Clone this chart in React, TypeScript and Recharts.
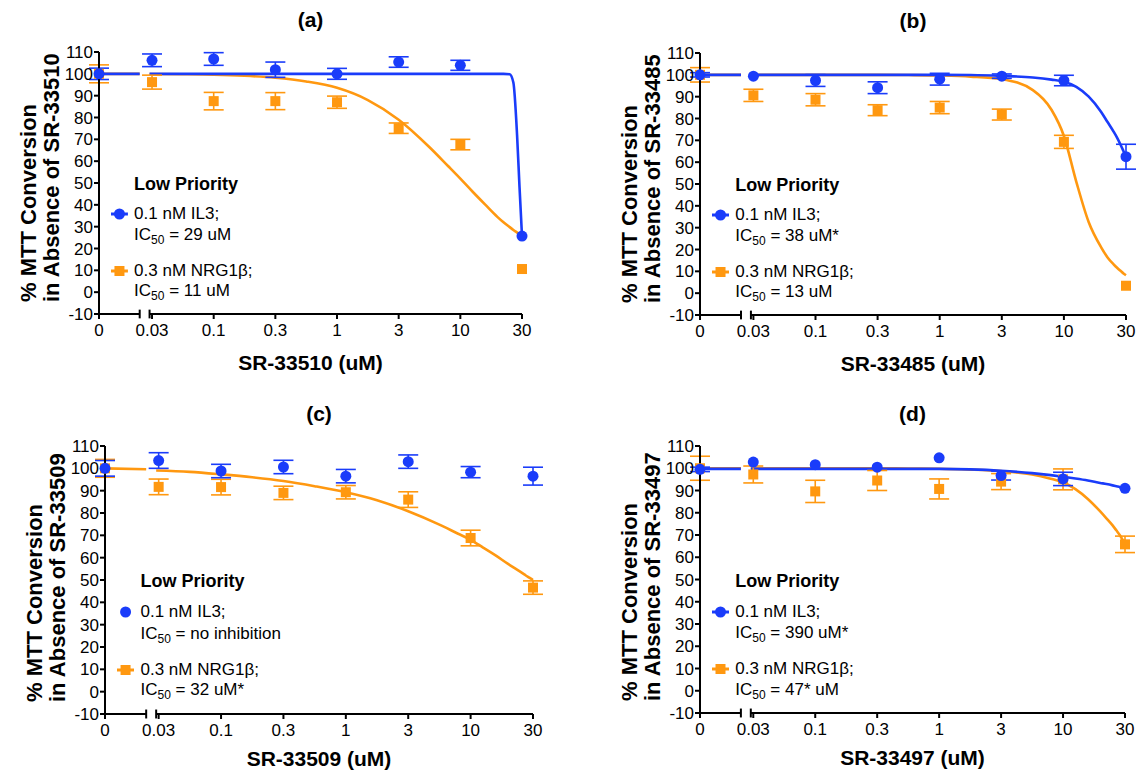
import { ComposedChart, Line, Scatter, XAxis, YAxis, ErrorBar, ReferenceLine } from 'recharts'

const BLUE = '#1a3cfa'
const ORANGE = '#ff9810'
const FONT = '"Liberation Sans", Arial, sans-serif'

// x axis: tick labels, and log10 of the non-zero doses (half-log steps)
const doseLabels = ['0', '0.03', '0.1', '0.3', '1', '3', '10', '30']
const logDose = [-1.5, -1, -0.5, 0, 0.5, 1, 1.5]
const ZERO_X = -1.93
const BREAK_L = -1.6
const BREAK_R = -1.52
const yTicks = [-10, 0, 10, 20, 30, 40, 50, 60, 70, 80, 90, 100, 110]

const fitX = [-1.52, -1.25, -1, -0.75, -0.5, -0.25, 0, 0.25, 0.5, 0.75, 0.9, 1, 1.1, 1.2, 1.3, 1.35, 1.4, 1.43, 1.46, 1.48, 1.5]

// (a) SR-33510
const il3A = [100, 106.2, 106.8, 101.9, 100, 105.4, 103.9, 25.7]
const il3AErr = [2.6, 2.9, 2.9, 3.5, 2.5, 2.4, 2.3, 0]
const nrgA = [100, 96.2, 87.5, 87.5, 87, 75.1, 67.6, 10.6]
const nrgAErr = [4.1, 3.2, 4, 3.9, 2.8, 2.4, 2.4, 0]
const il3FitA = [100, 100, 100, 100, 100, 100, 100, 100, 100, 100, 100, 100, 100, 100, 100, 100, 99.8, 96, 72, 48, 25.7]
const nrgFitA = [99.9, 99.8, 99.6, 99.1, 98.2, 96.5, 93.6, 88, 79, 66.4, 57.8, 52, 46, 40.2, 34.5, 32, 29.8, 28.5, 27.3, 26.5, 25.7]
const il3StubA = [100, 100]
const nrgStubA = [100, 100]

// (b) SR-33485
const il3B = [100, 99.4, 97.4, 94.1, 98, 99.4, 97.4, 62.5]
const il3BErr = [1, 0, 2.7, 2.7, 2.7, 1, 2.4, 5.7]
const nrgB = [100, 90.6, 88.6, 83.8, 85, 81.8, 69.3, 3.4]
const nrgBErr = [3.3, 2.8, 2.8, 2.5, 2.8, 2.5, 3, 0]
const il3FitB = [100, 100, 100, 100, 100, 100, 100, 99.9, 99.5, 98.8, 97.8, 96.8, 94.5, 90, 83, 78.5, 74, 71, 67.5, 65, 62.5]
const nrgFitB = [100, 100, 100, 100, 100, 99.9, 99.7, 99.2, 98, 93, 84, 72, 51, 32.5, 21, 16.5, 13.2, 11.5, 10, 9, 8.2]
const il3StubB = [100, 100]
const nrgStubB = [100, 100]

// (c) SR-33509
const il3C = [100, 103.5, 98.8, 100.6, 96.5, 103, 98.3, 96.5]
const il3CErr = [3.5, 3.5, 3, 3, 3, 3, 2.5, 4]
const nrgC = [100, 91.7, 91.6, 89, 89.3, 86, 68.8, 46.6]
const nrgCErr = [4, 3.5, 3.5, 3, 3, 3.5, 3.5, 3]
const nrgFitC = [99, 98.4, 97.3, 96, 94.3, 92, 89.3, 85.7, 80.8, 74.8, 70.7, 68, 64.5, 61, 57.2, 55.4, 53.6, 52.5, 51.4, 50.7, 50]
const nrgStubC = [100, 99.6]

// (d) SR-33497
const il3D = [99.5, 102.8, 101.6, 100.5, 104.7, 96.7, 95.2, 91]
const il3DErr = [1, 0, 0, 0, 0, 2, 3, 0]
const nrgD = [100, 97.2, 89.6, 94.5, 90.7, 94, 95, 65.8]
const nrgDErr = [5.4, 3.8, 5, 4.5, 4.5, 3.6, 4.7, 3.7]
const il3FitD = [99.7, 99.7, 99.7, 99.7, 99.7, 99.7, 99.7, 99.5, 98.9, 97.8, 96.9, 96.2, 95.4, 94.5, 93.4, 92.9, 92.3, 91.9, 91.5, 91.2, 91]
const nrgFitD = [100, 100, 100, 100, 100, 99.9, 99.8, 99.4, 98.7, 97.2, 95.3, 93.7, 90.6, 86.2, 80.6, 77.5, 74.3, 72.1, 69.8, 67.9, 65.8]
const il3StubD = [99.7, 99.7]
const nrgStubD = [100, 100]

type Pt = { x: number; y: number; err?: number }
type Box = { left: number; top: number; w: number; h: number }

const xTicks = [ZERO_X, ...logDose]

const points = (vals: number[], errs: number[]): Pt[] =>
  vals.map((v, i) => ({ x: xTicks[i], y: v, err: errs[i] }))
const fit = (vals: number[]): Pt[] => vals.map((v, i) => ({ x: fitX[i], y: v }))
const stub = (vals: number[]): Pt[] => [
  { x: ZERO_X, y: vals[0] },
  { x: BREAK_L, y: vals[1] },
]

const YW = 45
const MT = 10
const MR = 30
const XH = 30
const MB = 5

const circleShape = (p: any) => <circle cx={p.cx} cy={p.cy} r={5.5} fill={BLUE} />
const squareShape = (p: any) => <rect x={p.cx - 5} y={p.cy - 5} width={10} height={10} fill={ORANGE} />

type PanelProps = {
  box: Box
  tag: string
  compound: string
  il3: Pt[]
  nrg: Pt[]
  il3Fit?: Pt[]
  nrgFit: Pt[]
  il3Stub?: Pt[]
  nrgStub: Pt[]
  il3Ic50: string
  nrgIc50: string
  xTitleGap?: number
}

function Ic50({ text }: { text: string }) {
  return (
    <span>
      IC<sub style={{ fontSize: 12, verticalAlign: -4, lineHeight: 0 }}>50</sub> = {text}
    </span>
  )
}

function Marker({ kind, line, x, y, w }: { kind: 'circle' | 'square'; line: boolean; x: number; y: number; w: number }) {
  const color = kind === 'circle' ? BLUE : ORANGE
  return (
    <svg style={{ position: 'absolute', left: x - w / 2, top: y - 8 }} width={w} height={16}>
      {line && <line x1={0} y1={8} x2={w} y2={8} stroke={color} strokeWidth={3} />}
      {kind === 'circle' ? (
        <circle cx={w / 2} cy={8} r={5.5} fill={color} />
      ) : (
        <rect x={w / 2 - 5} y={3} width={10} height={10} fill={color} />
      )}
    </svg>
  )
}

function Panel(props: PanelProps) {
  const { box, tag, compound, il3, nrg, il3Fit, nrgFit, il3Stub, nrgStub, il3Ic50, nrgIc50, xTitleGap = 37 } = props
  const { left, top, w, h } = box
  const axisStroke = { stroke: '#000', strokeWidth: 2 }
  const tickStyle = { fill: '#000', fontSize: 17, fontFamily: FONT }
  const textX = left + 0.083 * w
  const markX = left + 0.048 * w
  const line = (cy: number, content: any, bold = false, size = 17) => (
    <div
      style={{
        position: 'absolute',
        left: textX,
        top: top + cy * h - 11,
        height: 22,
        lineHeight: '22px',
        fontSize: size,
        fontWeight: bold ? 'bold' : 'normal',
        whiteSpace: 'nowrap',
      }}
    >
      {content}
    </div>
  )
  return (
    <>
      <div style={{ position: 'absolute', left: left - YW, top: top - MT }}>
        <ComposedChart
          width={w + YW + MR}
          height={h + MT + XH + MB}
          margin={{ top: MT, right: MR, bottom: MB, left: 0 }}
        >
          <XAxis
            type='number'
            dataKey='x'
            domain={[ZERO_X, 1.5]}
            ticks={xTicks}
            interval={0}
            tickFormatter={(v: number) => doseLabels[xTicks.indexOf(v)] ?? ''}
            axisLine={false}
            tickLine={axisStroke}
            tickSize={5}
            tickMargin={5}
            tick={tickStyle}
            height={XH}
          />
          <YAxis
            type='number'
            dataKey='y'
            domain={[-10, 110]}
            ticks={yTicks}
            interval={0}
            axisLine={axisStroke}
            tickLine={axisStroke}
            tickSize={5}
            tickMargin={1}
            tick={tickStyle}
            width={YW}
          />
          <ReferenceLine segment={[{ x: ZERO_X, y: -10 }, { x: BREAK_L, y: -10 }]} stroke='#000' strokeWidth={2} ifOverflow='visible' />
          <ReferenceLine segment={[{ x: BREAK_R, y: -10 }, { x: 1.5, y: -10 }]} stroke='#000' strokeWidth={2} ifOverflow='visible' />
          <ReferenceLine segment={[{ x: BREAK_L, y: -12 }, { x: BREAK_L, y: -8 }]} stroke='#000' strokeWidth={2} ifOverflow='visible' />
          <ReferenceLine segment={[{ x: BREAK_R, y: -12 }, { x: BREAK_R, y: -8 }]} stroke='#000' strokeWidth={2} ifOverflow='visible' />
          <Line data={nrgStub} dataKey='y' type='monotone' stroke={ORANGE} strokeWidth={2.6} dot={false} activeDot={false} isAnimationActive={false} />
          <Line data={nrgFit} dataKey='y' type='monotone' stroke={ORANGE} strokeWidth={2.6} dot={false} activeDot={false} isAnimationActive={false} />
          {il3Stub && (
            <Line data={il3Stub} dataKey='y' type='monotone' stroke={BLUE} strokeWidth={2.6} dot={false} activeDot={false} isAnimationActive={false} />
          )}
          {il3Fit && (
            <Line data={il3Fit} dataKey='y' type='monotone' stroke={BLUE} strokeWidth={2.6} dot={false} activeDot={false} isAnimationActive={false} />
          )}
          <Scatter data={nrg} shape={squareShape} fill={ORANGE} isAnimationActive={false}>
            <ErrorBar dataKey='err' direction='y' width={10} stroke={ORANGE} strokeWidth={1.6} />
          </Scatter>
          <Scatter data={il3} shape={circleShape} fill={BLUE} isAnimationActive={false}>
            <ErrorBar dataKey='err' direction='y' width={10} stroke={BLUE} strokeWidth={1.6} />
          </Scatter>
        </ComposedChart>
      </div>

      <div style={{ position: 'absolute', left: left + 0.5 * w - 100, width: 200, top: top - 44, textAlign: 'center', fontSize: 21, fontWeight: 'bold' }}>
        ({tag})
      </div>
      <div style={{ position: 'absolute', left: left + 0.5 * w - 150, width: 300, top: top + h + xTitleGap, textAlign: 'center', fontSize: 21, fontWeight: 'bold' }}>
        {compound} (uM)
      </div>
      <div
        style={{
          position: 'absolute',
          left: left - 82,
          top: top + 0.955 * h,
          transform: 'rotate(-90deg)',
          transformOrigin: '0 0',
          whiteSpace: 'nowrap',
          fontSize: 22,
          fontWeight: 'bold',
          lineHeight: '23px',
        }}
      >
        <div>% MTT Conversion</div>
        <div>in Absence of {compound}</div>
      </div>

      {line(0.505, 'Low Priority', true, 18)}
      <Marker kind='circle' line={!!il3Fit} x={markX} y={top + 0.62 * h} w={0.04 * w} />
      {line(0.62, '0.1 nM IL3;')}
      {line(0.7, <Ic50 text={il3Ic50} />)}
      <Marker kind='square' line x={markX} y={top + 0.834 * h} w={0.04 * w} />
      {line(0.834, '0.3 nM NRG1β;')}
      {line(0.912, <Ic50 text={nrgIc50} />)}
    </>
  )
}

export default function App() {
  return (
    <div style={{ position: 'absolute', left: 0, top: 0, width: 1139, height: 771, background: '#fff', fontFamily: FONT, color: '#000', overflow: 'hidden' }}>
      <Panel
        box={{ left: 99, top: 52, w: 423, h: 262 }}
        tag='a'
        compound='SR-33510'
        il3={points(il3A, il3AErr)}
        nrg={points(nrgA, nrgAErr)}
        il3Fit={fit(il3FitA)}
        nrgFit={fit(nrgFitA)}
        il3Stub={stub(il3StubA)}
        nrgStub={stub(nrgStubA)}
        il3Ic50='29 uM'
        nrgIc50='11 uM'
      />
      <Panel
        box={{ left: 700, top: 53, w: 426, h: 262 }}
        tag='b'
        compound='SR-33485'
        il3={points(il3B, il3BErr)}
        nrg={points(nrgB, nrgBErr)}
        il3Fit={fit(il3FitB)}
        nrgFit={fit(nrgFitB)}
        il3Stub={stub(il3StubB)}
        nrgStub={stub(nrgStubB)}
        il3Ic50='38 uM*'
        nrgIc50='13 uM'
      />
      <Panel
        box={{ left: 105, top: 446, w: 428, h: 268 }}
        tag='c'
        compound='SR-33509'
        il3={points(il3C, il3CErr)}
        nrg={points(nrgC, nrgCErr)}
        nrgFit={fit(nrgFitC)}
        nrgStub={stub(nrgStubC)}
        il3Ic50='no inhibition'
        nrgIc50='32 uM*'
        xTitleGap={33}
      />
      <Panel
        box={{ left: 700, top: 446, w: 425, h: 267 }}
        tag='d'
        compound='SR-33497'
        il3={points(il3D, il3DErr)}
        nrg={points(nrgD, nrgDErr)}
        il3Fit={fit(il3FitD)}
        nrgFit={fit(nrgFitD)}
        il3Stub={stub(il3StubD)}
        nrgStub={stub(nrgStubD)}
        il3Ic50='390 uM*'
        nrgIc50='47* uM'
        xTitleGap={33}
      />
    </div>
  )
}
